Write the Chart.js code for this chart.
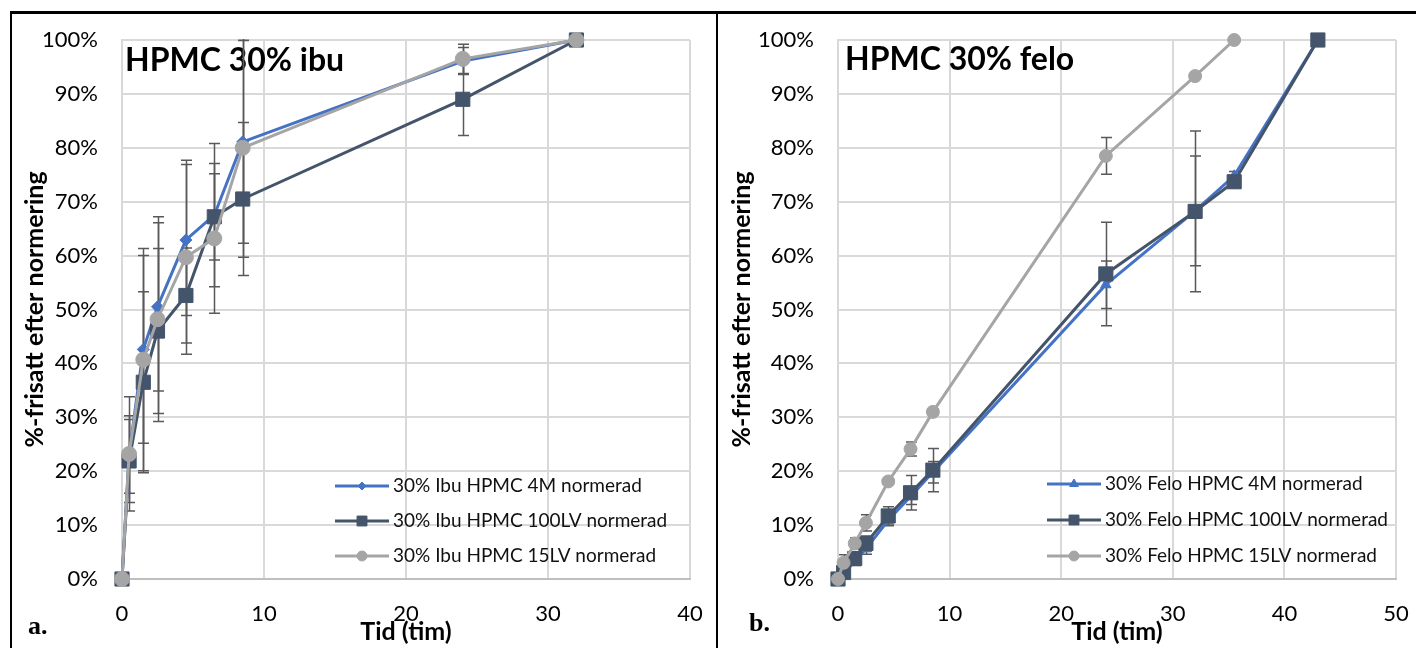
<!DOCTYPE html>
<html>
<head>
<meta charset="utf-8">
<script src="https://cdn.jsdelivr.net/npm/chart.js@4.4.1/dist/chart.umd.min.js"></script>
<style>
  html, body { margin: 0; padding: 0; background: #fff; }
  body { width: 1416px; height: 648px; position: relative; overflow: hidden; }
  .frame { position: absolute; top: 11px; height: 640px; border-top: 3px solid #000; border-left: 2px solid #000; }
  #frameA { left: 10px; width: 706px; }
  #frameB { left: 716px; width: 702px; }
  canvas { position: absolute; top: 14px; }
  #chartA { left: 12px; }
  #chartB { left: 719px; }
  .tag { position: absolute; font: bold 26px "Liberation Serif", serif; color: #000; }
</style>
</head>
<body>
<div class="frame" id="frameA"></div>
<div class="frame" id="frameB"></div>
<canvas id="chartA" width="705" height="634"></canvas>
<canvas id="chartB" width="697" height="634"></canvas>
<div class="tag" style="left:28px; top:611px;">a.</div>
<div class="tag" style="left:749px; top:608px;">b.</div>

<script>
// ===== Data: ibuprofen tablets =====
const timeIbu = [0, 0.5, 1.5, 2.5, 4.5, 6.5, 8.5, 24, 32];
const ibu4M = [0, 23.1, 42.6, 50.5, 62.9, 67.5, 81.1, 96.1, 100];
const ibu4MErr = [0, 7.2, 17.4, 15.6, 14.0, 13.3, 18.8, 2.5, 0];
const ibu100LV = [0, 21.9, 36.5, 46.0, 52.6, 67.2, 70.5, 89.0, 100];
const ibu100LVErr = [0, 7.7, 16.8, 15.3, 8.8, 8.0, 14.2, 6.7, 0];
const ibu15LV = [0, 23.2, 40.7, 48.2, 59.7, 63.2, 80.0, 96.5, 100];
const ibu15LVErr = [0, 10.6, 20.6, 19.0, 18.0, 13.9, 20.3, 2.7, 0];

// ===== Data: felodipine tablets =====
const timeFelo = [0, 0.5, 1.5, 2.5, 4.5, 6.5, 8.5, 24, 32, 35.5, 43];
const timeFelo15LV = [0, 0.5, 1.5, 2.5, 4.5, 6.5, 8.5, 24, 32, 35.5];
const felo4M = [0, 1.0, 3.3, 5.6, 10.9, 15.3, 19.8, 54.6, 68.3, 74.8, 100];
const felo4MErr = [0, 0.5, 0.8, 1.0, 1.0, 1.5, 2.0, 4.4, 10.2, 0.8, 0];
const felo100LV = [0, 1.2, 3.8, 6.6, 11.7, 16.0, 20.2, 56.6, 68.2, 73.7, 100];
const felo100LVErr = [0, 1.0, 1.2, 1.4, 1.7, 3.2, 4.0, 9.6, 14.9, 0.8, 0];
const felo15LV = [0, 3.0, 6.6, 10.4, 18.1, 24.1, 31.0, 78.5, 93.3, 100];
const felo15LVErr = [0, 1.5, 1.0, 1.5, 0.5, 1.3, 0.5, 3.4, 0.6, 0];

const yTicks = [0, 10, 20, 30, 40, 50, 60, 70, 80, 90, 100];

const BLUE = '#4472C4';
const SLATE = '#44546A';
const GRAY = '#A5A5A5';
const FONT = 'Lato';

function toPoints(times, values) {
  return times.map((t, i) => ({ x: t, y: values[i] }));
}

function series(label, times, values, errors, color, style, radius, order) {
  return {
    label,
    data: toPoints(times, values),
    errors,
    borderColor: color,
    backgroundColor: color,
    borderWidth: 3,
    pointStyle: style,
    pointRadius: radius,
    pointBorderWidth: 1,
    pointBorderColor: color,
    pointBackgroundColor: color,
    tension: 0,
    clip: false,
    order
  };
}

// ===== Plugin: chart heading inside the plot area =====
const headingPlugin = {
  id: 'heading',
  beforeDatasetsDraw(chart, args, opts) {
    const ctx = chart.ctx;
    ctx.save();
    ctx.font = `bold 32px ${FONT}`;
    ctx.fillStyle = '#000';
    ctx.textBaseline = 'alphabetic';
    ctx.fillText(opts.text, opts.x, opts.y);
    ctx.restore();
  }
};

// ===== Plugin: vertical error bars with caps =====
const errorBarPlugin = {
  id: 'errorBars',
  beforeDatasetsDraw(chart) {
    const { ctx, chartArea, scales: { x, y } } = chart;
    ctx.save();
    ctx.beginPath();
    ctx.rect(chartArea.left, chartArea.top - 1, chartArea.right - chartArea.left, chartArea.bottom - chartArea.top + 2);
    ctx.clip();
    ctx.strokeStyle = '#595959';
    ctx.lineWidth = 1.5;
    chart.data.datasets.forEach(ds => {
      if (!ds.errors) return;
      ds.data.forEach((p, i) => {
        const e = ds.errors[i];
        if (!e) return;
        const px = Math.round(x.getPixelForValue(p.x)) + 0.5;
        const top = y.getPixelForValue(p.y + e);
        const bottom = y.getPixelForValue(p.y - e);
        ctx.beginPath();
        ctx.moveTo(px, top);
        ctx.lineTo(px, bottom);
        ctx.moveTo(px - 5.5, top);
        ctx.lineTo(px + 5.5, top);
        ctx.moveTo(px - 5.5, bottom);
        ctx.lineTo(px + 5.5, bottom);
        ctx.stroke();
      });
    });
    ctx.restore();
  }
};

// ===== Plugin: legend drawn inside the plot area =====
const innerLegendPlugin = {
  id: 'innerLegend',
  afterDatasetsDraw(chart, args, opts) {
    const ctx = chart.ctx;
    ctx.save();
    ctx.font = `19px ${FONT}`;
    ctx.textBaseline = 'middle';
    chart.data.datasets.forEach((ds, i) => {
      const y = opts.y + i * opts.gap;
      ctx.strokeStyle = ds.borderColor;
      ctx.lineWidth = 3;
      ctx.beginPath();
      ctx.moveTo(opts.x, y);
      ctx.lineTo(opts.x + opts.lineLen, y);
      ctx.stroke();
      ctx.fillStyle = ds.borderColor;
      ctx.strokeStyle = ds.borderColor;
      ctx.lineWidth = 1;
      Chart.helpers.drawPoint(ctx, {
        pointStyle: ds.pointStyle,
        radius: opts.markerRadius[i],
        borderWidth: 1,
        rotation: 0
      }, opts.x + opts.lineLen / 2, y);
      ctx.fillStyle = '#111';
      ctx.fillText(ds.label, opts.x + opts.lineLen + 4, y);
    });
    ctx.restore();
  }
};

function buildChart(canvasId, cfg) {
  const tickFont = { family: FONT, size: 22 };
  const titleFont = { family: FONT, size: 25, weight: 'bold' };
  return new Chart(document.getElementById(canvasId), {
    type: 'line',
    data: { datasets: cfg.datasets },
    options: {
      responsive: false,
      animation: false,
      layout: { padding: { left: 0, top: 26, right: cfg.rightPad, bottom: 0 } },
      scales: {
        x: {
          type: 'linear',
          min: 0,
          max: cfg.xMax,
          ticks: { stepSize: 10, font: tickFont, color: '#000', padding: 22 },
          grid: { color: '#d9d9d9', lineWidth: 2, drawTicks: false },
          border: { display: true, color: '#bfbfbf', width: 2 },
          title: { display: true, text: 'Tid (tim)', font: titleFont, color: '#000', padding: { top: 0, bottom: 1 } },
          afterFit(scale) {
            scale.height = 69;
            scale.paddingLeft = 0;
            scale.paddingRight = 0;
          }
        },
        y: {
          type: 'linear',
          min: 0,
          max: 100,
          afterBuildTicks(scale) { scale.ticks = yTicks.map(v => ({ value: v })); },
          ticks: { font: tickFont, color: '#000', padding: 24, callback: v => v + '%' },
          grid: { color: '#d9d9d9', lineWidth: 2, drawTicks: false },
          border: { display: true, color: '#d9d9d9', width: 2 },
          title: { display: true, text: '%-frisatt efter normering', font: titleFont, color: '#000', padding: { top: 8, bottom: 0 } },
          afterFit(scale) {
            scale.width = cfg.yWidth;
            scale.paddingTop = 0;
            scale.paddingBottom = 0;
          }
        }
      },
      plugins: {
        legend: { display: false },
        tooltip: { enabled: false },
        heading: cfg.heading,
        innerLegend: cfg.legend
      }
    },
    plugins: [headingPlugin, errorBarPlugin, innerLegendPlugin]
  });
}

buildChart('chartA', {
  xMax: 40,
  yWidth: 110,
  rightPad: 27,
  heading: { text: 'HPMC 30% ibu', x: 113, y: 57 },
  legend: { x: 323, y: 472, gap: 35, lineLen: 54, markerRadius: [4, 7, 5] },
  datasets: [
    series('30% Ibu HPMC 4M normerad', timeIbu, ibu4M, ibu4MErr, BLUE, 'rectRot', 6, 3),
    series('30% Ibu HPMC 100LV normerad', timeIbu, ibu100LV, ibu100LVErr, SLATE, 'rect', 10, 2),
    series('30% Ibu HPMC 15LV normerad', timeIbu, ibu15LV, ibu15LVErr, GRAY, 'circle', 7.5, 1)
  ]
});

buildChart('chartB', {
  xMax: 50,
  yWidth: 119,
  rightPad: 20,
  heading: { text: 'HPMC 30% felo', x: 126, y: 56 },
  legend: { x: 328, y: 470, gap: 36, lineLen: 54, markerRadius: [5, 7, 5] },
  datasets: [
    series('30% Felo HPMC 4M normerad', timeFelo, felo4M, felo4MErr, BLUE, 'triangle', 6, 3),
    series('30% Felo HPMC 100LV normerad', timeFelo, felo100LV, felo100LVErr, SLATE, 'rect', 10, 2),
    series('30% Felo HPMC 15LV normerad', timeFelo15LV, felo15LV, felo15LVErr, GRAY, 'circle', 6.5, 1)
  ]
});
</script>
</body>
</html>
